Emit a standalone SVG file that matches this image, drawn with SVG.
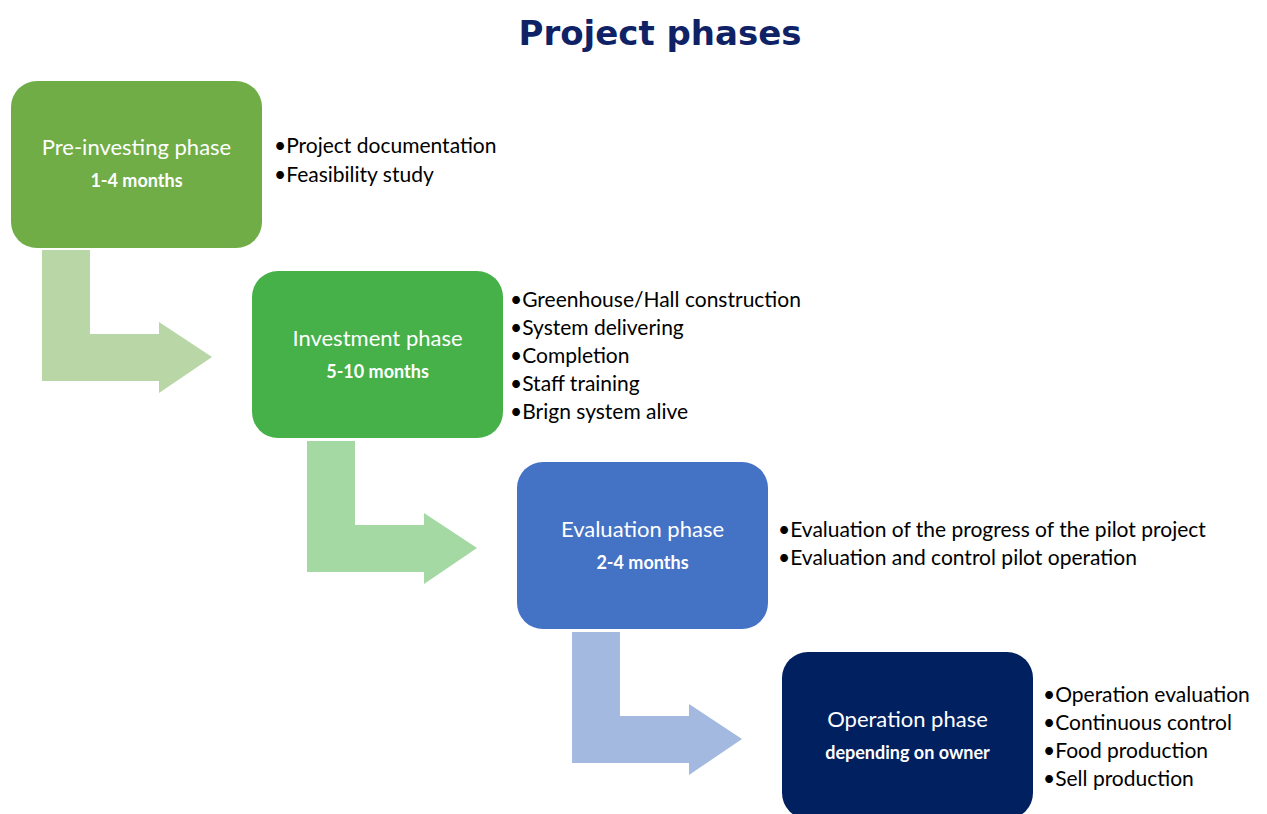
<svg xmlns="http://www.w3.org/2000/svg" width="1267" height="814" viewBox="0 0 1267 814">
  <defs>
    <style>
      .title { font-family: "DejaVu Sans", "Liberation Sans", sans-serif; font-weight: bold; font-size: 34px; fill: #102266; }
      .box-title { font-family: Lato, "Liberation Sans", sans-serif; font-size: 22px; fill: #ffffff; text-anchor: middle; }
      .box-sub { font-family: Lato, "Liberation Sans", sans-serif; font-size: 18px; font-weight: bold; fill: #ffffff; text-anchor: middle; }
      .bullet { font-family: Lato, "Liberation Sans", sans-serif; font-size: 21px; fill: #000000; }
    </style>
    <!-- bent arrow: down then right, origin at top-left of the vertical bar -->
    <path id="bent-arrow" d="M0,0 H48 V84 H117 V72 L170,107 L117,143 V131 H0 Z"/>
  </defs>

  <rect width="1267" height="814" fill="#ffffff"/>

  <text class="title" x="660" y="45" text-anchor="middle">Project phases</text>

  <g id="connectors">
    <use href="#bent-arrow" x="42" y="250" fill="#b8d6a6"/>
    <use href="#bent-arrow" x="307" y="441" fill="#a4d9a4"/>
    <use href="#bent-arrow" x="572" y="632" fill="#a3b9e0"/>
  </g>

  <g id="pre-investing">
    <rect x="11" y="81" width="251" height="167" rx="26" fill="#70ad47"/>
    <text class="box-title" x="136.5" y="155">Pre-investing phase</text>
    <text class="box-sub" x="136.5" y="187">1-4 months</text>
    <text class="bullet" x="274" y="153">•Project documentation</text>
    <text class="bullet" x="274" y="182">•Feasibility study</text>
  </g>

  <g id="investment">
    <rect x="252" y="271" width="251" height="167" rx="26" fill="#46b149"/>
    <text class="box-title" x="377.5" y="346">Investment phase</text>
    <text class="box-sub" x="377.5" y="378">5-10 months</text>
    <text class="bullet" x="510" y="307">•Greenhouse/Hall construction</text>
    <text class="bullet" x="510" y="335">•System delivering</text>
    <text class="bullet" x="510" y="363">•Completion</text>
    <text class="bullet" x="510" y="391">•Staff training</text>
    <text class="bullet" x="510" y="419">•Brign system alive</text>
  </g>

  <g id="evaluation">
    <rect x="517" y="462" width="251" height="167" rx="26" fill="#4472c4"/>
    <text class="box-title" x="642.5" y="537">Evaluation phase</text>
    <text class="box-sub" x="642.5" y="569">2-4 months</text>
    <text class="bullet" x="778" y="537">•Evaluation of the progress of the pilot project</text>
    <text class="bullet" x="778" y="565">•Evaluation and control pilot operation</text>
  </g>

  <g id="operation">
    <rect x="782" y="652" width="251" height="167" rx="26" fill="#002060"/>
    <text class="box-title" x="907.5" y="727">Operation phase</text>
    <text class="box-sub" x="907.5" y="759">depending on owner</text>
    <text class="bullet" x="1043" y="702">•Operation evaluation</text>
    <text class="bullet" x="1043" y="730">•Continuous control</text>
    <text class="bullet" x="1043" y="758">•Food production</text>
    <text class="bullet" x="1043" y="786">•Sell production</text>
  </g>
</svg>
